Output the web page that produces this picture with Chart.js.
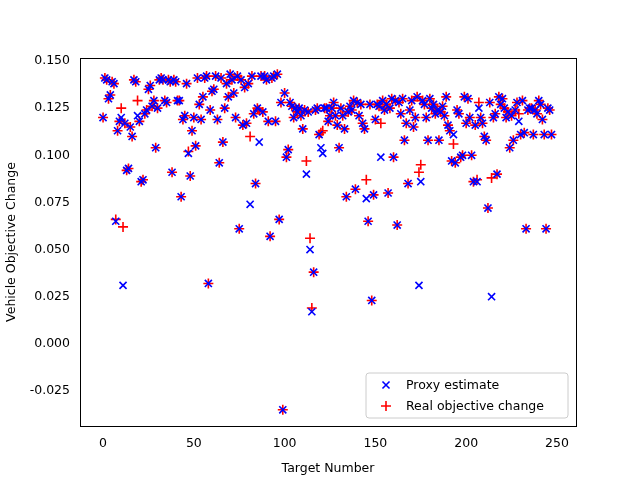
<!DOCTYPE html>
<html><head><meta charset="utf-8">
<script src="https://cdn.jsdelivr.net/npm/chart.js@4"></script>
<style>body{margin:0;background:#fff}</style>
</head><body><canvas id="c" width="640" height="480"></canvas>
<script>
const proxy = [0.120,0.141,0.140,0.130,0.132,0.139,0.138,0.065,0.113,0.118,0.120,0.031,0.117,0.092,0.093,0.115,0.110,0.140,0.139,0.121,
0.118,0.086,0.087,0.122,0.124,0.135,0.137,0.126,0.129,0.104,0.125,0.140,0.141,0.140,0.129,0.128,0.140,0.139,0.091,0.140,
0.139,0.129,0.129,0.078,0.119,0.121,0.138,0.101,0.089,0.113,0.120,0.105,0.141,0.127,0.119,0.131,0.141,0.142,0.032,0.124,
0.134,0.135,0.142,0.119,0.096,0.141,0.107,0.125,0.138,0.131,0.143,0.140,0.133,0.120,0.142,0.061,0.140,0.116,0.136,0.117,
0.138,0.074,0.142,0.122,0.085,0.125,0.107,0.142,0.123,0.142,0.140,0.118,0.057,0.141,0.142,0.118,0.143,0.066,0.128,-0.035,
0.133,0.099,0.103,0.128,0.126,0.120,0.125,0.123,0.125,0.121,0.114,0.124,0.090,0.123,0.050,0.017,0.038,0.124,0.125,0.111,
0.104,0.101,0.125,0.125,0.118,0.121,0.125,0.128,0.121,0.116,0.104,0.125,0.121,0.114,0.078,0.123,0.126,0.124,0.129,0.082,
0.128,0.121,0.127,0.117,0.114,0.077,0.065,0.127,0.023,0.079,0.119,0.127,0.126,0.099,0.129,0.124,0.127,0.080,0.125,0.130,
0.099,0.129,0.063,0.128,0.122,0.130,0.108,0.117,0.085,0.124,0.129,0.115,0.120,0.131,0.031,0.086,0.129,0.127,0.120,0.108,
0.130,0.125,0.127,0.122,0.124,0.108,0.123,0.126,0.121,0.131,0.116,0.113,0.097,0.111,0.096,0.124,0.122,0.099,0.100,0.131,
0.117,0.130,0.120,0.100,0.086,0.116,0.086,0.125,0.120,0.117,0.110,0.108,0.072,0.128,0.025,0.120,0.122,0.090,0.131,0.127,
0.130,0.125,0.120,0.123,0.104,0.121,0.108,0.124,0.128,0.118,0.111,0.129,0.112,0.061,0.124,0.125,0.125,0.111,0.124,0.122,
0.129,0.127,0.119,0.111,0.061,0.125,0.124,0.111];
const realOverrides = {7:0.066,10:0.125,11:0.062,19:0.129,47:0.102,81:0.110,86:0.124,112:0.097,114:0.056,115:0.019,120:0.112,121:0.113,
145:0.087,153:0.117,174:0.091,175:0.095,193:0.106,206:0.087,207:0.128,214:0.088,229:0.122};
const real = proxy.map((v,i)=> realOverrides[i]!==undefined ? realOverrides[i] : v);
const xTicks = [0,50,100,150,200,250];
const yTicks = [-0.025,0,0.025,0.05,0.075,0.1,0.125,0.15];

const frame = {id:'frame',afterDraw(ch){const a=ch.chartArea,c=ch.ctx;c.save();c.strokeStyle='#000';c.lineWidth=1;
 c.strokeRect(Math.round(a.left)+0.5,Math.round(a.top)+0.5,Math.round(a.right-a.left),Math.round(a.bottom-a.top));
 const x0=a.right-210,y0=a.bottom-53,w=202,h=45;
 c.fillStyle='rgba(255,255,255,0.8)';c.strokeStyle='#ccc';c.beginPath();c.roundRect(x0,y0,w,h,3);c.fill();c.stroke();
 c.font='12.5px "DejaVu Sans"';c.textBaseline='middle';
 const items=[['crossRot','blue','Proxy estimate'],['cross','red','Real objective change']];
 items.forEach((it,i)=>{const cy=y0+12+i*21,cx=x0+20;
  c.strokeStyle=it[1];c.fillStyle=it[1];c.lineWidth=1.6;
  Chart.helpers.drawPoint(c,{pointStyle:it[0],radius:5,borderWidth:1.6,rotation:0},cx,cy);
  c.fillStyle='#000';c.fillText(it[2],x0+40,cy+1);});
 c.restore();}};
new Chart(document.getElementById('c'),{type:'scatter',
 data:{datasets:[
  {label:'Proxy estimate',data:proxy.map((v,i)=>({x:i,y:v})),pointStyle:'crossRot',radius:5,borderColor:'blue',borderWidth:1.6,backgroundColor:'blue'},
  {label:'Real objective change',data:real.map((v,i)=>({x:i,y:v})),pointStyle:'cross',radius:5,borderColor:'red',borderWidth:1.6,backgroundColor:'red'}]},
 options:{animation:false,responsive:false,devicePixelRatio:1,events:[],
  layout:{padding:{left:0,right:64,top:58,bottom:0}},
  plugins:{legend:{display:false},tooltip:{enabled:false}},
  scales:{
   x:{type:'linear',min:-12.7,max:260.5,grid:{display:false},border:{display:false},
    afterBuildTicks(s){s.ticks=xTicks.map(v=>({value:v}));},
    ticks:{color:'#000',font:{family:'DejaVu Sans',size:12.5},padding:2},
    title:{display:true,text:'Target Number',color:'#000',font:{family:'DejaVu Sans',size:12.5},padding:{top:2}},
    afterFit(s){s.height=54;}},
   y:{type:'linear',min:-0.0436,max:0.1516,grid:{display:false},border:{display:false},
    afterBuildTicks(s){s.ticks=yTicks.map(v=>({value:v}));},
    ticks:{color:'#000',font:{family:'DejaVu Sans',size:12.5},padding:2,callback:v=>v.toFixed(3)},
    title:{display:true,text:'Vehicle Objective Change',color:'#000',font:{family:'DejaVu Sans',size:12.5},padding:{bottom:2}},
    afterFit(s){s.width=80;}}}},
 plugins:[frame]});
</script></body></html>
